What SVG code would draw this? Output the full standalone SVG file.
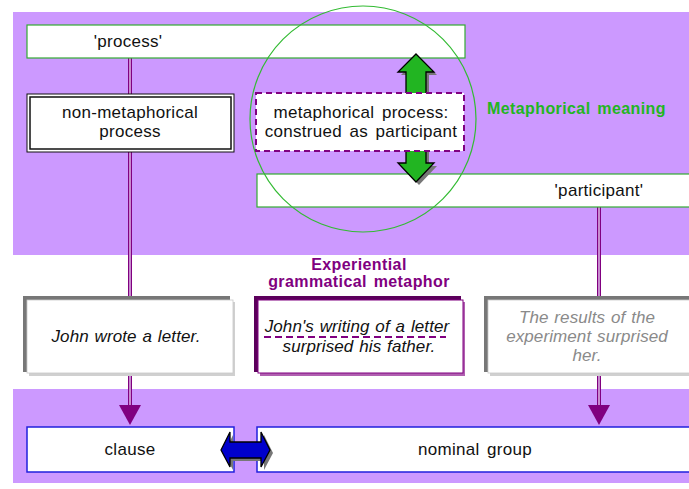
<svg xmlns="http://www.w3.org/2000/svg" width="689" height="489" viewBox="0 0 689 489">
  <style>
    text { font-family: "Liberation Sans", Arial, sans-serif; }
    .t17 { font-size: 17px; fill: #111; letter-spacing: 0.3px; word-spacing: 2.5px; }
    .ital { font-style: italic; letter-spacing: 0.1px; word-spacing: 1px; }
    .grey { fill: #8a8a8a; }
    .bold-label { font-size: 16px; font-weight: bold; letter-spacing: 0.4px; word-spacing: 2px; }
    .green-box { fill: #fff; stroke: #33aa33; stroke-width: 1.2; }
    .blue-box { fill: #fff; stroke: #2020dd; stroke-width: 1.5; }
    .conn-outer { stroke: #800080; stroke-width: 4; fill: none; }
    .conn-inner { stroke: #e6c8f0; stroke-width: 1.4; fill: none; }
    .head { fill: #800080; }
  </style>

  <!-- background bands -->
  <rect x="0" y="0" width="689" height="489" fill="#ffffff"/>
  <rect x="13" y="12" width="676" height="243" fill="#cc99ff"/>
  <rect x="13" y="389" width="676" height="94" fill="#cc99ff"/>

  <!-- connectors -->
  <g id="connectors">
    <line class="conn-outer" x1="130" y1="58" x2="130" y2="407"/>
    <line class="conn-inner" x1="130" y1="58" x2="130" y2="407"/>
    <polygon class="head" points="119,405 141,405 130,425"/>
    <line class="conn-outer" x1="599" y1="207" x2="599" y2="407"/>
    <line class="conn-inner" x1="599" y1="207" x2="599" y2="407"/>
    <polygon class="head" points="588,405 610,405 599,425"/>
  </g>

  <!-- semantic level -->
  <g id="process">
    <rect class="green-box" x="27" y="25" width="438" height="33"/>
    <text class="t17" x="128" y="47" text-anchor="middle">'process'</text>
  </g>

  <g id="participant">
    <rect class="green-box" x="257" y="174" width="440" height="33"/>
    <text class="t17" x="599" y="196" text-anchor="middle">'participant'</text>
  </g>

  <g id="non-metaphorical">
    <rect x="27" y="94" width="207" height="58" fill="#fff" stroke="#111" stroke-width="1"/>
    <rect x="30" y="97" width="201" height="52" fill="#fff" stroke="#111" stroke-width="1.5"/>
    <text class="t17" x="130" y="118" text-anchor="middle">non-metaphorical</text>
    <text class="t17" x="130" y="137" text-anchor="middle">process</text>
  </g>

  <g id="metaphor-circle">
    <circle cx="363" cy="119" r="113" fill="none" stroke="#33bb33" stroke-width="1.2"/>
  </g>

  <g id="shift-arrow">
    <path d="M419,57 L437,75 L429,75 L429,166 L437,166 L419,185 L401,166 L409,166 L409,75 L401,75 Z" fill="#777"/>
    <path d="M416,54 L434,72 L426,72 L426,163 L434,163 L416,182 L398,163 L406,163 L406,72 L398,72 Z" fill="#22b522" stroke="#000" stroke-width="1.3" stroke-linejoin="miter"/>
  </g>

  <g id="metaphorical-process">
    <rect x="256" y="93" width="208" height="58" fill="#fff" stroke="#800080" stroke-width="2" stroke-dasharray="6,4"/>
    <text class="t17" x="361" y="118" text-anchor="middle">metaphorical process:</text>
    <text class="t17" x="361" y="137" text-anchor="middle">construed as participant</text>
  </g>

  <g id="label-meaning">
    <text class="bold-label" x="487" y="114" fill="#22b522">Metaphorical meaning</text>
  </g>

  <!-- wording level -->
  <g id="label-metaphor">
    <text class="bold-label" x="359" y="270" fill="#800080" text-anchor="middle">Experiential</text>
    <text class="bold-label" x="359" y="287" fill="#800080" text-anchor="middle">grammatical metaphor</text>
  </g>

  <g id="congruent-example">
    <rect x="23" y="296" width="207" height="76" fill="#777"/>
    <rect x="29" y="302" width="206" height="74" fill="#d0d0d0"/>
    <rect x="27" y="300" width="206" height="73" fill="#fff" stroke="#c8c8c8" stroke-width="0.8"/>
    <text class="t17 ital" x="126" y="342" text-anchor="middle">John wrote a letter.</text>
  </g>

  <g id="metaphorical-example">
    <rect x="254" y="296" width="207" height="76" fill="#5c005c"/>
    <rect x="260" y="302" width="205" height="74" fill="#b060b0"/>
    <rect x="258" y="300" width="205" height="73" fill="#fff" stroke="#800080" stroke-width="1"/>
    <text class="t17 ital" x="357" y="332" text-anchor="middle">John's writing of a letter</text>
    <line x1="264" y1="337" x2="446" y2="337" stroke="#800080" stroke-width="2" stroke-dasharray="7,4"/>
    <text class="t17 ital" x="359" y="352" text-anchor="middle">surprised his father.</text>
  </g>

  <g id="other-example">
    <rect x="484" y="296" width="215" height="76" fill="#777"/>
    <rect x="490" y="302" width="215" height="74" fill="#d0d0d0"/>
    <rect x="488" y="300" width="215" height="73" fill="#fff" stroke="#c8c8c8" stroke-width="0.8"/>
    <text class="t17 ital grey" x="587" y="323" text-anchor="middle">The results of the</text>
    <text class="t17 ital grey" x="587" y="342" text-anchor="middle">experiment surprised</text>
    <text class="t17 ital grey" x="587" y="361" text-anchor="middle">her.</text>
  </g>

  <g id="clause">
    <rect class="blue-box" x="27" y="427" width="207" height="45"/>
    <text class="t17" x="130" y="455" text-anchor="middle">clause</text>
  </g>

  <g id="nominal-group">
    <rect class="blue-box" x="257" y="427" width="440" height="45"/>
    <text class="t17" x="475" y="455" text-anchor="middle">nominal group</text>
  </g>

  <g id="equivalence-arrow">
    <path d="M224,453 L233,435 L233,445 L264,445 L264,435 L273,453 L264,470 L264,461 L233,461 L233,470 Z" fill="#777"/>
    <path d="M221,450 L230,432 L230,442 L261,442 L261,432 L270,450 L261,467 L261,458 L230,458 L230,467 Z" fill="#0000cc" stroke="#000" stroke-width="1.3"/>
  </g>
</svg>
